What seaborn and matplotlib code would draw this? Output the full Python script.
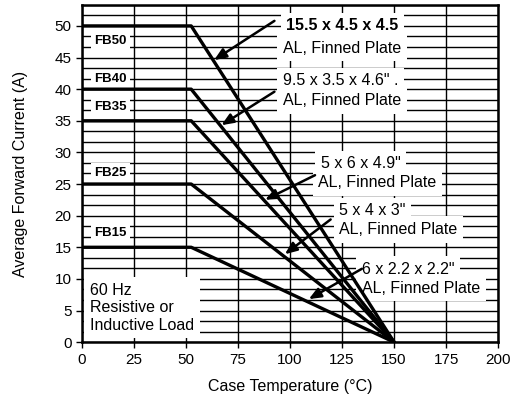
import numpy as np
import pandas as pd
import matplotlib
matplotlib.use("Agg")
import matplotlib.pyplot as plt
from matplotlib.ticker import MultipleLocator
import seaborn as sns

# data
models = ["FB50", "FB40", "FB35", "FB25", "FB15"]
rated_current = [50, 40, 35, 25, 15]
knee_temp = [52.5, 52.5, 52.5, 52.5, 52.5]
zero_temp = 150

heatsinks = ['15.5 x 4.5 x 4.5', '9.5 x 3.5 x 4.6" .', '5 x 6 x 4.9"',
             '5 x 4 x 3"', '6 x 2.2 x 2.2"']
material = "AL, Finned Plate"
# label line positions (x, y) and arrow ends in data units
name_pos = [(98.2, 50.0), (96.6, 41.3), (114.9, 28.2), (123.6, 20.8), (134.6, 11.5)]
mat_pos = [(96.6, 46.5), (96.6, 38.2), (113.5, 25.2), (123.6, 17.8), (134.6, 8.5)]
arrow_tail = [(92.5, 50.8), (92.5, 39.6), (112, 26.4), (119.5, 19.4), (134.5, 11.6)]
arrow_head = [(63.5, 44.6), (67, 34.3), (88, 22.5), (97.5, 13.9), (109, 6.8)]
fb_label_pos = [(6.0, 47.6), (6.0, 41.6), (6.0, 37.2), (6.0, 26.8), (6.0, 17.2)]
load_text = "60 Hz\nResistive or\nInductive Load"

rows = []
for m, i, k in zip(models, rated_current, knee_temp):
    for t, c in [(0, i), (k, i), (zero_temp, 0)]:
        rows.append({"Model": m, "Temp": t, "Current": c})
df = pd.DataFrame(rows)

sns.set_theme(style="white")
plt.rcParams['font.family'] = ['Liberation Sans', 'DejaVu Sans']
plt.rcParams['text.color'] = 'black'
plt.rcParams['axes.labelcolor'] = 'black'

fig = plt.figure(figsize=(5.12, 4.03), dpi=100)
ax = fig.add_axes([0.160, 0.151, 0.813, 0.837])

sns.lineplot(data=df, x="Temp", y="Current", units="Model", estimator=None,
             color="black", lw=2.4, ax=ax, zorder=4, sort=False)

ax.set_xlim(0, 200)
ax.set_ylim(0, 50 + 10 / 3)
ax.xaxis.set_major_locator(MultipleLocator(25))
ax.yaxis.set_major_locator(MultipleLocator(5))
ax.yaxis.set_minor_locator(MultipleLocator(5 / 3))
ax.grid(which="major", axis="x", color="black", lw=1.0)
ax.grid(which="both", axis="y", color="black", lw=1.0)
ax.tick_params(which="major", length=4, width=1, color="black", labelsize=11,
               labelcolor="black", left=True, bottom=True)
ax.tick_params(which="minor", length=0)
for s in ax.spines.values():
    s.set_color("black")
    s.set_linewidth(1.8)

ax.set_xlabel("Case Temperature (°C)", fontsize=11.5, labelpad=9)
ax.set_ylabel("Average Forward Current (A)", fontsize=11.5, labelpad=19)

box = dict(facecolor="white", edgecolor="none", pad=2.5)
wide_box = dict(facecolor="white", edgecolor="none", pad=4)
for m, (x, y) in zip(models, fb_label_pos):
    ax.text(x, y, m, fontsize=9.5, fontweight="bold", va="center", ha="left",
            bbox=box, zorder=3)


def boxed_line(pos, s, **kw):
    # white patch first, text on top, so stacked lines don't clip each other
    ax.text(*pos, s, color="none", bbox=wide_box, zorder=2.9, **kw)
    ax.text(*pos, s, zorder=3.1, **kw)


for n, name in enumerate(heatsinks):
    boxed_line(mat_pos[n], material, fontsize=11.5, va="center", ha="left")
    boxed_line(name_pos[n], name, fontsize=11.5, va="center", ha="left",
               fontweight="bold" if n == 0 else "normal")
    ax.annotate("", xy=arrow_head[n], xytext=arrow_tail[n],
                arrowprops=dict(arrowstyle="-|>,head_length=0.6,head_width=0.25",
                                color="black", lw=1.8, shrinkA=0, shrinkB=0),
                zorder=5)

ax.text(3.8, 5.45, load_text, fontsize=11.5, va="center", ha="left",
        linespacing=1.2, bbox=wide_box, zorder=3)

fig.savefig("out.png", dpi=100)
